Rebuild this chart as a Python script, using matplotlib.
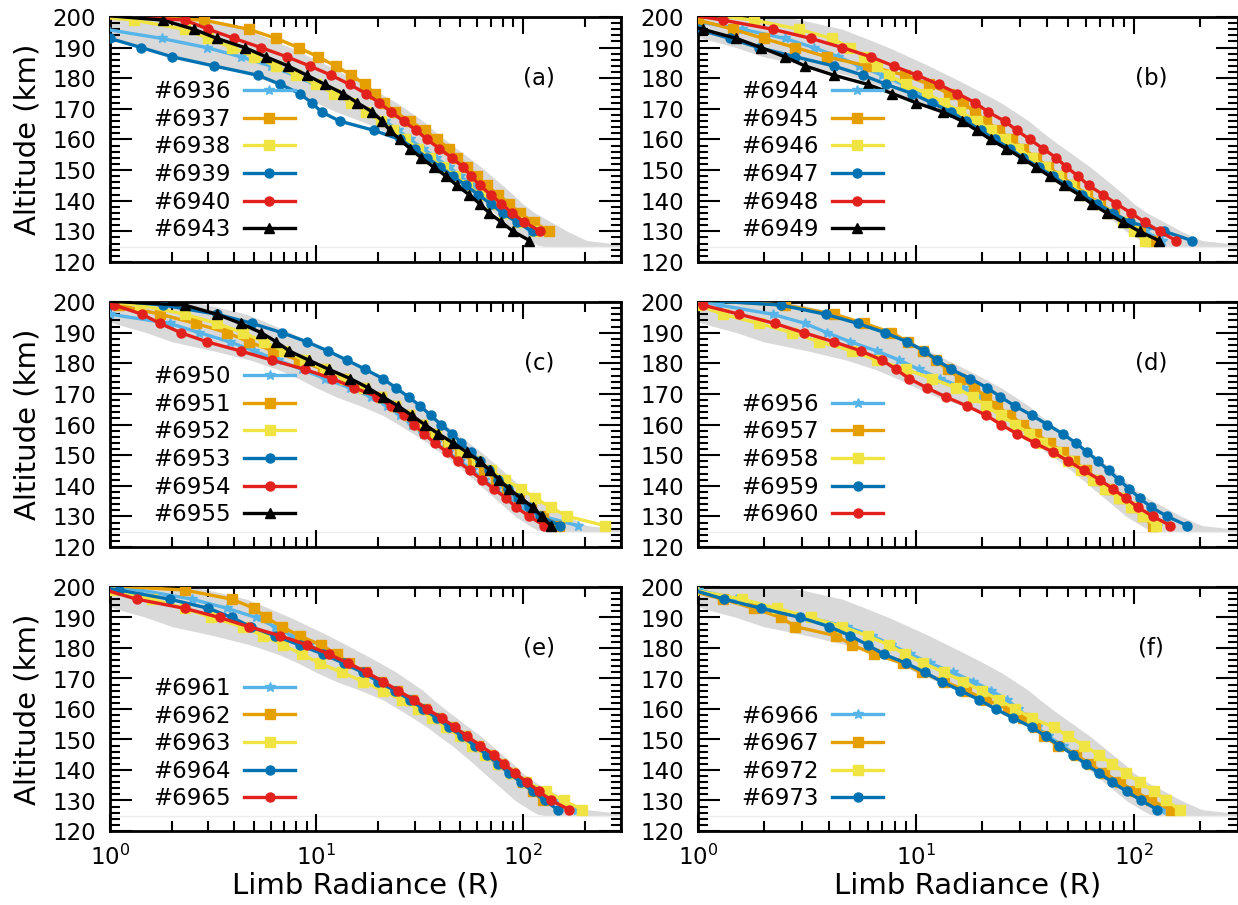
import numpy as np
import matplotlib
matplotlib.use("Agg")
import matplotlib.pyplot as plt
from matplotlib.ticker import LogLocator, MultipleLocator, NullFormatter

nan = np.nan

# Tangent altitude grid (km), bottom to top
ALT = [127, 130, 133, 136, 139, 142, 145, 148, 151, 154, 157, 160, 163,
       166, 169, 172, 175, 178, 181, 184, 187, 190, 193, 196, 199, 202]

# Envelope of all limb profiles (grey band)
BAND_ALT = [125.0, 125.5, 127, 130, 133, 136, 139, 142, 145, 148, 151, 154, 157,
            160, 163, 166, 169, 172, 175, 178, 181, 184, 187, 190, 193, 196, 199, 200]
BAND_LO = [130, 118, 108, 92, 82, 73, 65, 58, 51.5, 45.5, 39.5, 34.5, 29.5,
           25, 21, 16.5, 12.5, 10.0, 8.2, 6.5, 4.8, 3.2, 2.0, 1.5, 1.05, 0.8, 0.6, 0.5]
BAND_HI = [320, 320, 205, 165, 138, 115, 100, 90, 80, 71, 63, 55, 48,
           42, 37, 33, 28.5, 24.5, 20.5, 17, 14, 11.5, 9.3, 7.5, 5.9, 4.6, 3.0, 2.5]

# Limb radiance profiles (R), one list per orbit, on the ALT grid
# panel (a)
r6936 = [nan, 110, 95, 82, 73, 64, 57, 50, 44, 38, 33, 28.5, 25, 21.5, 18, 15, 12.5, 9.8, 7.8, 6.0, 4.3, 2.95, 1.78, 0.95, 0.5, nan]
r6937 = [nan, 135, 113, 97, 86, 76, 67, 60, 54, 48, 44, 38.5, 33.5, 28.5, 24, 21.3, 19.2, 17.2, 14.8, 12.4, 10.2, 8.2, 6.4, 4.7, 2.85, 0.3]
r6938 = [nan, 115, 95, 81, 71, 62, 54, 47, 41, 35.5, 31, 27, 23.5, 20.5, 17.5, 14.8, 12.2, 10, 8.0, 6.4, 5.0, 3.9, 3.0, 2.3, 1.3, 0.4]
r6939 = [nan, 112, 94, 80, 70, 61, 53, 46, 40, 34.5, 30, 25.5, 19, 13, 10.6, 9.5, 8.3, 6.7, 5.2, 3.2, 2.0, 1.42, 1.0, 0.6, 0.4, nan]
r6940 = [nan, 122, 102, 89, 79, 70, 62, 56.5, 51.5, 45.5, 39.5, 34.5, 30.5, 26.5, 23, 20.2, 17.4, 14.5, 11.8, 9.3, 7.2, 5.4, 4.0, 3.0, 2.3, 0.4]
r6943 = [108, 90, 79, 69, 62, 55, 48, 42.7, 37, 32.3, 28.5, 25.4, 22.7, 20.9, 18.7, 15.8, 13.5, 11.0, 9.0, 7.3, 5.7, 4.5, 3.3, 2.55, 1.8, 0.5]
# panel (b)
r6944 = [135, 112, 94, 80, 69, 59, 51, 44.5, 38.5, 33.5, 29, 25, 21.5, 18.5, 15.8, 13, 10.6, 8.7, 7.0, 5.5, 4.4, 3.4, 2.5, 1.6, 0.9, 0.5]
r6945 = [121, 107, 95, 81, 70, 61, 53, 46.5, 40.5, 35.5, 31, 27.5, 24, 21, 18.6, 16.5, 14.2, 11.5, 8.9, 6.0, 3.9, 2.8, 2.0, 1.45, 1.0, 0.7]
r6946 = [112, 100, 89, 78, 68, 59, 51.5, 45, 39, 34, 29.5, 25.5, 22, 19, 16, 13.5, 11.2, 9.0, 7.5, 6.6, 5.8, 5.0, 4.1, 2.9, 1.8, 0.8]
r6947 = [184, 138, 96, 80, 68, 58, 49.5, 42.5, 36.5, 31, 27, 23, 19.8, 17, 14.5, 11.8, 9.6, 7.3, 5.7, 4.2, 2.8, 1.9, 1.4, 1.0, 0.6, nan]
r6948 = [156, 131, 112, 97, 83, 72, 62, 55.5, 49, 44, 38.3, 33.3, 29, 25.5, 21.4, 18.7, 15.5, 12.7, 10.1, 7.9, 6.2, 4.6, 3.3, 2.2, 1.3, 0.7]
r6949 = [130, 106, 89, 75, 64, 56, 47.5, 41, 35.5, 30.5, 26, 22, 19, 16.3, 13.3, 10, 7.8, 6.0, 4.2, 3.1, 2.5, 1.95, 1.5, 1.05, 0.7, nan]
# panel (c)
r6950 = [185, 125, 98, 85, 74, 65, 57, 50, 43.5, 38, 33, 29, 25.5, 22, 18.5, 14.5, 11, 8.5, 6.5, 5.0, 3.8, 2.7, 1.95, 1.0, 0.7, nan]
r6951 = [150, 125, 110, 96, 84, 74, 65, 57.5, 50, 43.5, 37.5, 32.5, 28.2, 24.2, 20.5, 17, 13.8, 10.8, 8.2, 6.2, 4.7, 3.7, 2.6, 1.75, 1.1, 0.6]
r6952 = [250, 165, 137, 115, 98, 82, 70, 60, 51, 44, 38, 32.5, 28, 24, 20.5, 17, 13.8, 11, 8.8, 7.0, 5.6, 4.4, 3.3, 2.3, 1.4, 0.5]
r6953 = [152, 122, 107, 95, 85, 76, 68.5, 62, 56, 50.5, 45.5, 40.2, 35.8, 32, 28, 24.3, 21, 17.3, 14.1, 11.4, 9.0, 6.8, 4.9, 3.3, 1.8, 0.6]
r6954 = [127, 108, 93, 83, 72.5, 63.5, 55.5, 48.5, 43, 37.5, 33.2, 29.8, 26.5, 23, 19.8, 15.3, 11.9, 8.8, 6.1, 4.3, 2.95, 2.2, 1.75, 1.43, 1.05, 0.8]
r6955 = [137, 124, 112, 98, 86, 77, 69.5, 62, 53.5, 46, 39, 33.5, 29, 25, 21, 17.8, 14.6, 11.5, 9.2, 7.4, 6.4, 5.4, 4.3, 3.3, 2.3, 0.3]
# panel (d)
r6956 = [128, 113, 100, 87, 76, 67, 59, 52, 46, 40, 34.5, 30, 26, 22.5, 19.6, 16.5, 12.9, 10.3, 8.4, 6.6, 5.0, 3.9, 3.1, 2.2, 1.25, 0.8]
r6957 = [122, 110, 98, 87, 77, 68, 60, 53, 47, 41, 35.5, 31, 27, 23.5, 21, 18.5, 16, 14, 12.3, 10.8, 9.2, 7.7, 5.8, 4.2, 2.5, 0.5]
r6958 = [126, 110, 97, 85, 74, 65, 57, 50, 44, 38, 33, 28.5, 24.5, 21, 18.3, 15.2, 11.8, 9.0, 6.6, 5.1, 3.6, 2.7, 1.9, 1.3, 1.0, 0.7]
r6959 = [175, 142, 120, 106, 95, 85, 76.5, 68.5, 61, 54, 47, 40, 34, 28.5, 24.4, 21.2, 17.7, 14.5, 12.5, 10.9, 9.1, 7.2, 5.4, 3.85, 2.4, 0.5]
r6960 = [147, 122, 104, 91.5, 80, 69.5, 59, 50, 42.5, 35, 29, 24.5, 21, 17.2, 13.7, 11.2, 9.3, 8.1, 7.0, 5.6, 4.2, 3.05, 2.25, 1.55, 1.05, 0.7]
# panel (e)
r6961 = [184, 140, 116, 99, 86, 75.5, 66.5, 58.5, 51, 44.5, 38.5, 33, 28.5, 24.2, 20.5, 17, 13.8, 11.2, 9.2, 7.6, 6.3, 5.1, 3.7, 2.5, 1.4, 0.6]
r6962 = [nan, 125, 112, 100, 89, 79, 69.5, 60.5, 52.5, 45.5, 39, 33.5, 29, 24.5, 20.5, 17.3, 14.4, 12.6, 10.5, 8.3, 6.8, 5.7, 5.0, 3.9, 2.3, 0.4]
r6963 = [195, 158, 130, 104, 88, 76, 66, 57, 49.5, 42.5, 36.5, 31, 26, 21, 16.9, 13.3, 10.4, 8.5, 6.9, 5.5, 4.4, 3.1, 2.3, 1.6, 1.05, 0.6]
r6964 = [148, 128, 112, 98, 86, 76, 67, 58.5, 51, 44, 38.5, 33, 28.5, 24, 20, 16.8, 13.6, 10.8, 8.3, 6.3, 4.8, 3.9, 3.0, 1.95, 1.1, 0.6]
r6965 = [168, 138, 120, 105, 92, 81.5, 72.5, 62.5, 54, 47, 40.6, 34.5, 29.7, 25, 21, 17.6, 14.3, 11.5, 9.0, 6.7, 4.7, 3.4, 2.3, 1.35, 0.95, 0.7]
# panel (f)
r6966 = [135, 112, 95, 82, 71, 62, 54, 47, 40.5, 36, 33, 29.5, 26.2, 22.2, 18.3, 14.8, 11.6, 9.4, 7.7, 6.3, 4.8, 3.2, 2.2, 1.5, 1.0, 0.7]
r6967 = [148, 120, 101, 86.5, 72.5, 63, 54, 45, 38.5, 35, 31, 26.5, 21, 17, 13.5, 10.6, 8.7, 6.4, 5.1, 4.3, 2.8, 2.4, 1.8, 1.3, 0.9, 0.6]
r6972 = [162, 140, 124, 106, 92, 79, 69, 59, 50, 43, 34, 28.5, 24, 20, 16.5, 13.5, 10.8, 8.9, 7.5, 6.0, 4.6, 3.3, 2.3, 1.6, 0.95, 0.7]
r6973 = [128, 108, 92.5, 79.5, 69, 60, 52.5, 45.5, 39.5, 34, 28, 23.2, 19.5, 16, 13.1, 11, 9.0, 7.1, 6.0, 5.0, 4.0, 2.95, 1.95, 1.32, 0.95, 0.7]

# Line styles, by position in each panel's list
STYLES = [
    dict(color="#56B4E9", marker="*", ms=7),
    dict(color="#E69F00", marker="s", ms=6.5),
    dict(color="#F0E442", marker="s", ms=6.5),
    dict(color="#0072B2", marker="o", ms=6.5),
    dict(color="#E3211C", marker="o", ms=6.5),
    dict(color="black", marker="^", ms=7),
]

PANELS = [
    ("(a)", [("#6936", r6936, 0), ("#6937", r6937, 1), ("#6938", r6938, 2),
             ("#6939", r6939, 3), ("#6940", r6940, 4), ("#6943", r6943, 5)]),
    ("(b)", [("#6944", r6944, 0), ("#6945", r6945, 1), ("#6946", r6946, 2),
             ("#6947", r6947, 3), ("#6948", r6948, 4), ("#6949", r6949, 5)]),
    ("(c)", [("#6950", r6950, 0), ("#6951", r6951, 1), ("#6952", r6952, 2),
             ("#6953", r6953, 3), ("#6954", r6954, 4), ("#6955", r6955, 5)]),
    ("(d)", [("#6956", r6956, 0), ("#6957", r6957, 1), ("#6958", r6958, 2),
             ("#6959", r6959, 3), ("#6960", r6960, 4)]),
    ("(e)", [("#6961", r6961, 0), ("#6962", r6962, 1), ("#6963", r6963, 2),
             ("#6964", r6964, 3), ("#6965", r6965, 4)]),
    ("(f)", [("#6966", r6966, 0), ("#6967", r6967, 1), ("#6972", r6972, 2),
             ("#6973", r6973, 3)]),
]

W, H = 1238, 905
fig = plt.figure(figsize=(W / 100, H / 100), dpi=100)

cols = [(110, 621), (698, 1238)]
rows = [(17, 262), (302, 547), (587, 831)]

for i, (tag, series) in enumerate(PANELS):
    r, c = divmod(i, 2)
    x0, x1 = cols[c]
    y0, y1 = rows[r]
    ax = fig.add_axes([x0 / W, 1 - y1 / H, (x1 - x0) / W, (y1 - y0) / H])

    ax.fill_betweenx(BAND_ALT, BAND_LO, BAND_HI, color="#d9d9d9", lw=0, zorder=1)
    ax.axhline(125, color="#eeeeee", lw=1, zorder=1)

    for label, vals, k in series:
        st = STYLES[k]
        ax.plot(vals, ALT, color=st["color"], marker=st["marker"], ms=st["ms"],
                mec=st["color"], mfc=st["color"], lw=2.4, label=label, zorder=3)

    ax.set_xscale("log")
    ax.set_xlim(1, 300)
    ax.set_ylim(120, 200)
    ax.yaxis.set_major_locator(MultipleLocator(10))
    ax.yaxis.set_minor_locator(MultipleLocator(2))
    ax.xaxis.set_minor_locator(LogLocator(base=10, subs=np.arange(2, 10)))
    ax.xaxis.set_minor_formatter(NullFormatter())

    ax.tick_params(which="both", direction="in", top=True, right=True, width=1.5)
    ax.tick_params(axis="y", which="major", length=16, labelsize=16.5, pad=10)
    ax.tick_params(axis="x", which="major", length=12.5, labelsize=16.5, pad=10)
    ax.tick_params(which="minor", length=7.5)
    for sp in ax.spines.values():
        sp.set_linewidth(2)

    if r < 2:
        ax.tick_params(axis="x", labelbottom=False)
    else:
        ax.set_xlabel("Limb Radiance (R)", fontsize=21, labelpad=1)
    if c == 0:
        ax.set_ylabel("Altitude (km)", fontsize=21, labelpad=8)

    ax.text(120, 180, tag, ha="center", va="center", fontsize=16.5)

    ax.legend(loc="lower left", bbox_to_anchor=(43 / (x1 - x0), 0.085),
              frameon=False, markerfirst=False, fontsize=16.5,
              handlelength=2.2, handletextpad=0.6, labelspacing=0.2,
              borderpad=0, borderaxespad=0)

fig.savefig("out.png", dpi=100)
